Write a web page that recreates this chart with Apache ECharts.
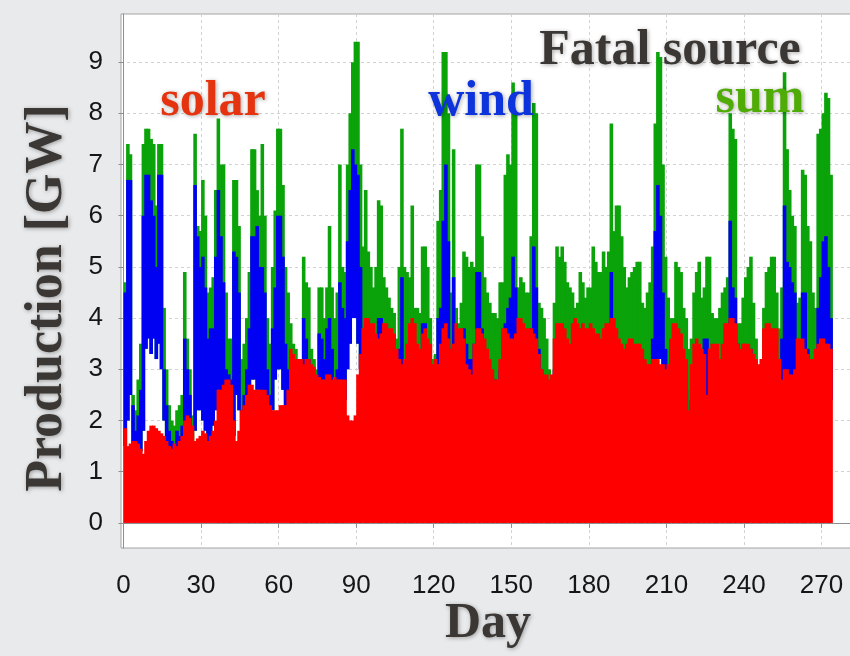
<!DOCTYPE html>
<html>
<head>
<meta charset="utf-8">
<script src="https://cdn.jsdelivr.net/npm/echarts@6/dist/echarts.min.js"></script>
<style>
  html, body { margin: 0; padding: 0; background: #e9eaec; }
  #chart { width: 850px; height: 656px; }
</style>
</head>
<body>
<div id="chart"></div>
<script>
// Daily envelopes (GW) of the hourly production series, days 0 .. 273.
// solarPeak: midday solar maximum (night value is 0)
const solarPeak = [
  1.85,1.5,1.55,1.6,1.6,1.55,1.45,1.35,1.6,1.8,
  1.9,1.9,1.85,1.8,1.75,1.7,1.6,1.5,1.45,1.55,
  1.5,1.6,1.7,2.0,2.1,2.05,1.9,1.6,1.65,1.7,
  1.8,1.75,1.6,1.7,1.8,2.0,2.6,2.6,2.7,2.8,
  2.8,2.7,2.0,1.6,1.8,2.2,2.3,2.5,2.7,2.7,
  2.6,2.6,2.6,2.6,2.6,2.5,2.3,2.2,2.2,2.2,
  2.3,2.3,2.3,2.6,3.4,3.3,3.2,3.2,3.2,3.1,
  3.2,3.2,3.1,3.05,2.9,2.85,2.8,2.8,2.9,2.9,
  2.8,2.85,2.8,2.8,2.8,2.8,2.1,2.0,2.0,2.1,
  2.9,3.3,3.8,4.0,4.0,3.9,3.9,3.7,3.6,3.7,
  3.9,3.9,3.8,3.8,3.7,3.4,3.2,3.1,3.2,3.5,
  3.9,4.0,3.9,3.5,3.4,3.7,3.8,3.6,3.5,3.1,
  3.2,3.1,3.5,3.8,3.9,3.6,3.4,3.5,3.9,3.8,
  3.8,3.6,3.1,3.0,2.9,3.5,3.8,3.8,3.7,3.6,
  3.4,3.2,3.0,2.8,2.8,3.2,3.8,3.8,3.7,3.6,
  3.6,3.7,4.0,4.0,3.9,3.8,3.8,3.8,3.7,3.6,
  3.3,3.0,2.9,2.9,2.8,2.9,3.6,3.9,3.9,3.9,
  3.8,3.6,3.5,3.9,4.0,3.9,3.8,3.9,3.8,3.8,
  3.9,3.8,3.7,3.7,3.6,3.8,3.9,3.9,4.0,4.0,
  3.8,3.6,3.5,3.4,3.5,3.6,3.6,3.5,3.5,3.5,
  3.4,3.2,3.1,3.1,3.2,3.2,3.2,3.1,3.1,3.0,
  3.1,3.6,3.9,3.9,3.8,3.7,3.4,3.2,2.2,3.1,
  3.5,3.6,3.5,3.4,3.3,2.5,3.4,3.5,3.5,3.5,
  3.2,3.5,3.9,3.9,4.0,4.0,3.9,3.5,3.4,3.5,
  3.5,3.5,3.4,3.3,3.2,3.1,3.2,3.8,3.9,3.9,
  3.8,3.8,3.8,3.2,2.8,3.0,3.0,2.9,2.9,3.0,
  3.6,3.6,3.6,3.4,3.3,3.2,3.2,3.4,3.5,3.6,
  3.6,3.5,3.5,3.4
];

// windLow / windHigh: daily minimum and maximum of wind production
const windLow = [
  1.5,2.0,2.5,1.3,1.2,1.3,1.4,1.8,3.4,3.6,
  3.3,3.6,3.2,3.5,3.0,2.0,1.5,1.2,1.2,1.1,
  1.2,1.3,1.3,1.8,2.0,1.6,1.2,1.8,2.2,2.2,
  2.0,1.8,1.6,1.7,1.9,2.2,2.6,2.5,2.2,1.8,
  1.6,1.6,1.7,2.5,2.2,1.5,1.5,1.8,2.0,2.8,
  2.8,2.6,2.6,2.5,2.2,1.6,1.6,2.2,2.8,3.0,
  3.0,2.6,2.0,1.8,2.0,2.0,2.0,1.8,1.8,2.4,
  2.4,2.2,1.8,1.8,1.8,2.0,2.2,2.0,2.2,2.5,
  2.2,2.0,2.0,2.6,2.6,2.4,3.0,3.5,4.0,4.0,
  3.5,3.0,2.6,2.8,2.8,2.7,2.4,2.4,2.8,2.8,
  2.6,2.4,2.2,2.2,2.0,1.8,2.2,2.8,2.4,2.2,
  2.2,2.6,2.2,2.0,2.0,2.6,2.6,2.2,1.8,1.8,
  1.8,2.4,2.6,3.0,3.8,3.0,2.4,2.6,2.2,2.2,
  2.2,2.4,2.4,2.2,2.2,2.4,2.8,2.8,2.4,2.2,
  2.2,2.0,2.0,2.0,2.0,2.2,2.2,2.6,2.6,2.6,
  3.0,2.8,2.4,2.4,2.2,2.2,2.2,2.6,3.0,2.8,
  2.4,2.2,2.0,1.8,1.8,1.6,2.0,2.2,2.2,2.2,
  2.2,2.0,2.0,2.0,1.8,1.8,2.0,2.0,2.0,2.0,
  2.0,2.2,2.2,2.2,2.2,2.2,2.2,2.2,2.8,2.4,
  2.4,2.4,2.2,2.2,2.0,2.0,2.2,2.2,2.2,2.2,
  2.0,2.0,2.0,2.2,2.4,3.0,3.2,3.2,2.6,2.2,
  2.2,2.0,2.0,2.2,2.2,2.2,2.0,2.0,1.6,1.8,
  2.0,2.0,2.2,2.0,2.2,2.4,2.0,2.0,2.0,2.0,
  2.0,2.2,2.2,2.2,2.4,2.6,2.4,2.2,2.2,2.0,
  2.2,2.2,2.2,2.0,2.0,1.8,1.8,2.0,2.2,2.2,
  2.2,2.2,2.0,2.0,2.0,2.6,2.6,2.4,2.4,2.4,
  2.2,2.0,2.4,2.4,2.2,2.0,1.9,2.0,2.4,2.6,
  2.8,2.8,2.6,2.4
];

const windHigh = [
  4.5,6.7,6.7,2.3,1.8,2.1,2.6,6.0,6.8,6.8,
  6.3,6.0,5.0,6.8,6.8,3.0,2.3,1.8,1.6,1.5,
  1.8,1.7,1.9,3.6,3.0,2.5,1.6,6.6,5.6,5.0,
  5.2,4.6,3.6,3.8,3.8,5.2,6.5,5.6,4.7,3.0,
  2.9,2.8,5.3,5.2,4.5,2.2,2.5,3.0,3.8,5.6,
  5.6,5.8,5.0,5.0,4.5,3.0,2.5,3.8,4.6,6.0,
  6.0,5.2,3.5,3.0,2.9,3.0,2.8,2.6,2.6,4.0,
  3.6,3.2,2.6,2.5,2.6,3.7,3.6,3.2,3.8,4.0,
  3.4,2.8,3.0,4.7,4.2,4.0,5.5,6.5,7.3,7.0,
  6.8,5.0,3.2,3.9,3.9,3.6,3.2,3.2,4.0,4.0,
  3.8,3.6,3.2,3.0,2.8,2.6,3.4,4.8,3.2,3.0,
  3.2,3.8,3.0,2.8,2.8,3.9,3.9,3.2,2.6,2.5,
  2.6,4.0,4.2,5.9,7.0,5.5,3.4,4.8,3.2,3.0,
  3.2,3.8,3.5,3.2,3.2,3.5,4.9,4.9,3.8,3.4,
  3.2,3.0,2.8,2.8,2.6,3.0,3.2,3.9,4.2,4.4,
  5.2,4.6,3.4,3.6,3.4,3.2,3.2,3.8,5.4,4.6,
  3.4,3.0,2.8,2.6,2.4,2.2,3.0,3.4,3.2,3.4,
  3.2,3.0,3.0,3.0,2.8,2.8,3.0,3.0,2.8,2.8,
  3.0,3.2,3.0,3.2,3.2,3.2,3.2,3.4,4.9,3.4,
  3.4,3.4,3.2,3.0,3.0,3.0,3.2,3.2,3.4,3.4,
  3.0,2.8,2.8,3.0,3.6,5.7,6.6,6.0,4.5,3.4,
  3.0,2.8,2.8,3.2,3.2,3.2,2.8,2.6,2.0,2.4,
  2.8,3.0,3.2,3.4,3.6,3.6,3.0,2.8,2.8,2.8,
  2.8,3.0,3.2,3.4,5.9,4.6,4.4,3.5,3.2,3.0,
  3.2,3.2,3.4,3.0,2.8,2.4,2.4,2.8,3.2,3.2,
  3.4,3.4,3.2,2.8,3.6,6.2,5.1,5.0,4.7,4.5,
  3.4,3.2,4.5,4.5,3.4,3.2,2.8,3.0,4.2,4.8,
  5.5,5.6,5.0,4.0
];

// sumHigh: daily maximum of solar + wind (its night minimum equals windLow)
const sumHigh = [
  4.7,7.4,7.2,2.5,2.2,2.8,3.5,7.4,7.7,7.7,
  7.5,7.4,6.2,7.4,7.4,4.2,3.0,2.3,2.0,1.9,
  2.2,2.3,2.5,4.9,3.6,3.0,2.1,7.6,5.8,5.7,
  6.7,6.0,4.5,4.6,4.8,6.5,7.9,7.0,7.0,4.5,
  3.6,3.6,6.7,6.7,5.8,3.2,3.5,4.0,4.9,7.3,
  7.3,6.5,6.0,7.4,6.0,4.0,3.5,5.0,6.1,7.7,
  7.7,6.6,5.0,4.5,3.9,3.5,3.4,3.2,3.2,5.2,
  4.7,4.6,3.4,3.2,3.0,4.6,4.6,4.0,4.6,5.8,
  4.6,4.0,4.5,7.0,5.0,4.9,7.0,8.0,9.0,9.4,
  9.4,7.0,5.4,6.5,5.3,5.0,4.6,5.0,6.3,6.2,
  4.8,4.6,4.4,4.2,4.1,3.6,5.0,7.7,5.0,4.9,
  4.8,6.2,4.2,4.2,4.1,5.4,5.4,5.0,4.0,3.2,
  3.3,5.9,6.5,9.2,9.2,8.0,4.5,7.3,4.2,3.9,
  4.3,5.3,5.2,5.0,5.1,5.0,7.0,7.0,5.6,4.8,
  4.5,4.3,4.1,4.1,4.0,4.7,4.7,6.8,7.2,7.0,
  8.6,8.0,4.6,4.8,4.7,4.5,4.5,5.6,8.2,8.0,
  4.3,4.2,4.0,3.6,3.0,2.7,4.3,5.4,5.2,5.4,
  5.1,4.7,4.6,4.5,4.2,4.3,4.9,4.7,4.4,4.6,
  4.6,5.4,5.1,4.9,4.9,5.3,5.0,5.3,7.8,5.7,
  6.2,6.2,5.6,5.0,4.6,4.8,4.9,5.0,5.1,5.1,
  4.3,4.2,4.5,4.7,5.4,7.8,9.2,9.1,7.0,5.2,
  4.4,4.0,4.0,5.1,5.0,4.9,4.2,4.0,3.4,3.6,
  4.5,4.9,5.1,4.4,4.6,5.2,5.2,4.1,4.0,4.0,
  4.2,4.5,4.6,4.8,8.0,7.7,7.5,3.9,3.9,4.4,
  4.8,5.0,5.2,4.3,3.6,2.9,3.1,4.2,4.9,5.0,
  5.2,5.2,4.5,3.8,4.6,8.8,7.3,6.5,6.0,5.8,
  4.3,4.4,6.9,6.8,5.8,5.5,4.5,4.2,7.6,7.7,
  8.0,8.4,8.3,6.8
];

const dayTicks = [0, 30, 60, 90, 120, 150, 180, 210, 240, 270];
const gwTicks = [0, 1, 2, 3, 4, 5, 6, 7, 8, 9];

const seriesNames = { solar: 'solar', wind: 'wind', sum: 'sum' };
const titleText = 'Fatal source';
const xName = 'Day';
const yName = 'Production [GW]';

const colors = { solar: '#fe0000', wind: '#0000f2', sum: '#0aa30a' };

// one item per day: [day, daily low, daily high]
const days = solarPeak.map((_, i) => i);
const dayRange = (lo, hi) => days.map(d => [d, lo === null ? 0 : lo[d], hi[d]]);

// each day is painted as a column spanning [day, day + 1) from low to high
function dayColumns(color) {
  return function (params, api) {
    const d = api.value(0);
    const top = api.coord([d, api.value(2)]);
    const bottom = api.coord([d + 1, api.value(1)]);
    return {
      type: 'rect',
      shape: {
        x: top[0],
        y: top[1],
        width: bottom[0] - top[0] + 1,
        height: bottom[1] - top[1]
      },
      style: { fill: color },
      silent: true
    };
  };
}

function columnSeries(name, data, color, z) {
  return {
    name: name, type: 'custom', data: data, z: z, silent: true, clip: true,
    encode: { x: 0, y: [1, 2] },
    renderItem: dayColumns(color)
  };
}

const serif = '"Liberation Serif", "Times New Roman", serif';
const shadow = { textShadowColor: 'rgba(0,0,0,0.35)', textShadowBlur: 4, textShadowOffsetX: 1, textShadowOffsetY: 1 };
const tickFont = '"Liberation Sans", Arial, sans-serif';

const chart = echarts.init(document.getElementById('chart'), null, { renderer: 'canvas' });

chart.setOption({
  backgroundColor: '#e9eaec',
  animation: false,
  grid: {
    left: 121, top: 14, width: 760, height: 534,
    outerBoundsMode: 'none', containLabel: false,
    show: true, backgroundColor: '#ffffff', borderColor: '#a4a4a4', borderWidth: 1
  },
  xAxis: {
    type: 'value', min: -0.97, max: 293,
    offset: 10,
    axisLine: { show: true, lineStyle: { color: '#8e8e8e', width: 1 } },
    axisTick: { show: true, customValues: dayTicks, length: 5, lineStyle: { color: '#8e8e8e' } },
    axisLabel: { customValues: dayTicks, margin: 15, fontFamily: tickFont, fontSize: 26, color: '#161616' },
    splitLine: { show: true, lineStyle: { color: '#d2d2d2', type: [3, 3], width: 1 } }
  },
  yAxis: {
    type: 'value', min: -0.49, max: 9.94,
    offset: 5,
    axisLine: { show: true, lineStyle: { color: '#8e8e8e', width: 1 } },
    axisTick: { show: true, customValues: gwTicks, length: 5, lineStyle: { color: '#8e8e8e' } },
    axisLabel: { customValues: gwTicks, margin: 13, fontFamily: tickFont, fontSize: 26, color: '#161616' },
    splitLine: { show: true, lineStyle: { color: '#d2d2d2', type: [3, 3], width: 1 } }
  },
  series: [
    columnSeries(seriesNames.sum, dayRange(windLow, sumHigh), colors.sum, 2),
    columnSeries(seriesNames.wind, dayRange(windLow, windHigh), colors.wind, 3),
    columnSeries(seriesNames.solar, dayRange(null, solarPeak), colors.solar, 4)
  ],
  graphic: [
    { type: 'text', x: 670, y: 51, z: 100,
      style: Object.assign({ text: titleText, font: 'bold 50px ' + serif, fill: '#3a3734',
        align: 'center', verticalAlign: 'middle' }, shadow) },
    { type: 'text', x: 213, y: 102, z: 100,
      style: Object.assign({ text: seriesNames.solar, font: 'bold 50px ' + serif, fill: '#e5330f',
        align: 'center', verticalAlign: 'middle' }, shadow) },
    { type: 'text', x: 481, y: 102, z: 100,
      style: Object.assign({ text: seriesNames.wind, font: 'bold 50px ' + serif, fill: '#0d33dc',
        align: 'center', verticalAlign: 'middle' }, shadow) },
    { type: 'text', x: 760, y: 99, z: 100,
      style: Object.assign({ text: seriesNames.sum, font: 'bold 50px ' + serif, fill: '#4fab06',
        align: 'center', verticalAlign: 'middle' }, shadow) },
    { type: 'text', x: 488, y: 624, z: 100,
      style: Object.assign({ text: xName, font: 'bold 50px ' + serif, fill: '#3a3734',
        align: 'center', verticalAlign: 'middle' }, shadow) },
    { type: 'text', x: 48, y: 298, rotation: Math.PI / 2, z: 100,
      style: Object.assign({ text: yName, font: 'bold 52px ' + serif, fill: '#3a3734',
        align: 'center', verticalAlign: 'middle' }, shadow) }
  ]
});
</script>
</body>
</html>
